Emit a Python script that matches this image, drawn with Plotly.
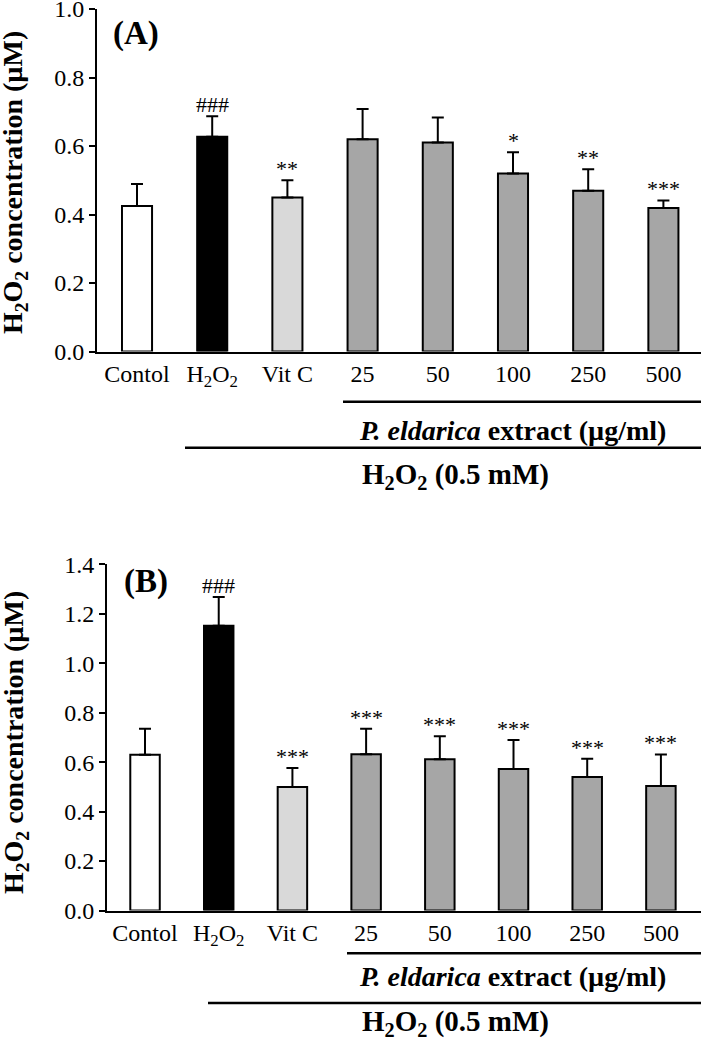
import plotly.graph_objects as go

W, H = 701, 1047

groups = ["Contol", "H<sub>2</sub>O<sub>2</sub>", "Vit C", "25", "50", "100", "250", "500"]
bar_colors = ["white", "black", "#d9d9d9", "#a6a6a6", "#a6a6a6", "#a6a6a6", "#a6a6a6", "#a6a6a6"]

# panel A
a_mean = [0.425, 0.627, 0.450, 0.620, 0.610, 0.520, 0.469, 0.419]
a_err = [0.064, 0.060, 0.050, 0.088, 0.073, 0.062, 0.063, 0.022]
a_sig = ["", "###", "**", "", "", "*", "**", "***"]

# panel B
b_mean = [0.630, 1.151, 0.499, 0.632, 0.612, 0.572, 0.540, 0.503]
b_err = [0.105, 0.117, 0.077, 0.103, 0.093, 0.117, 0.074, 0.128]
b_sig = ["", "###", "***", "***", "***", "***", "***", "***"]

FONT = "Liberation Serif, Times New Roman, serif"


def px(x):
    return x / W


def py(y):
    return 1 - y / H


xs = list(range(len(groups)))

fig = go.Figure()
for mean, err, xa, ya in [(a_mean, a_err, "x", "y"), (b_mean, b_err, "x2", "y2")]:
    fig.add_trace(go.Bar(
        x=xs, y=mean, width=0.4, xaxis=xa, yaxis=ya,
        marker=dict(color=bar_colors, line=dict(color="black", width=2)),
        error_y=dict(type="data", symmetric=False, array=err, arrayminus=[0] * len(err),
                     color="black", thickness=2, width=6),
    ))

axis_common = dict(showline=True, linecolor="black", linewidth=2, showgrid=False,
                   zeroline=False, automargin=False, ticklabeloverflow="allow",
                   tickfont=dict(family=FONT, size=24, color="black"))

fig.update_layout(
    width=W, height=H, margin=dict(l=0, r=0, t=0, b=0, autoexpand=False),
    paper_bgcolor="white", plot_bgcolor="white", showlegend=False,
    font=dict(family=FONT, color="black"),
    xaxis=dict(domain=[px(97), 1], range=[-0.532, 7.5], tickvals=xs, ticktext=groups,
               ticks="", anchor="y", **axis_common),
    yaxis=dict(domain=[py(351.5), py(9)], range=[0, 1.0], dtick=0.2, tickformat=".1f",
               ticks="outside", ticklen=6, tickwidth=2, tickcolor="black", anchor="x", **axis_common),
    xaxis2=dict(domain=[px(107), 1], range=[-0.516, 7.544], tickvals=xs, ticktext=groups,
                ticks="", anchor="y2", **axis_common),
    yaxis2=dict(domain=[py(910.5), py(564.3)], range=[0, 1.4], dtick=0.2, tickformat=".1f",
                ticks="outside", ticklen=6, tickwidth=2, tickcolor="black", anchor="x2", **axis_common),
)

# significance marks
for sig, mean, err, xa, ya in [(a_sig, a_mean, a_err, "x", "y"), (b_sig, b_mean, b_err, "x2", "y2")]:
    for i, s in enumerate(sig):
        if not s:
            continue
        fig.add_annotation(x=i, y=mean[i] + err[i], xref=xa, yref=ya, text=s, showarrow=False,
                           yanchor="bottom", yshift=-3, font=dict(family=FONT, size=22))

# panel letters
fig.add_annotation(x=px(111), y=py(34), xref="paper", yref="paper", text="<b>(A)</b>",
                   showarrow=False, xanchor="left", yanchor="middle", font=dict(size=33))
fig.add_annotation(x=px(122), y=py(581), xref="paper", yref="paper", text="<b>(B)</b>",
                   showarrow=False, xanchor="left", yanchor="middle", font=dict(size=33))

# y titles
for yc in [183, 743]:
    fig.add_annotation(x=px(15), y=py(yc), xref="paper", yref="paper", textangle=-90,
                       text="<b>H<sub>2</sub>O<sub>2</sub> concentration (µM)</b>",
                       showarrow=False, xanchor="center", yanchor="middle", font=dict(size=28))

# group brackets below the x axis
brackets = [
    # line1 y, line1 start, text1 y, line2 y, line2 start, text2 y
    (401.7, 343, 430, 447.7, 185, 476),
    (953.3, 347, 976.7, 1003, 208, 1023),
]
for l1, s1, t1, l2, s2, t2 in brackets:
    fig.add_shape(type="line", xref="paper", yref="paper", x0=px(s1), x1=1, y0=py(l1), y1=py(l1),
                  line=dict(color="black", width=2.5))
    fig.add_shape(type="line", xref="paper", yref="paper", x0=px(s2), x1=1, y0=py(l2), y1=py(l2),
                  line=dict(color="black", width=2.5))
    fig.add_annotation(x=px(512), y=py(t1), xref="paper", yref="paper", showarrow=False,
                       xanchor="center", yanchor="middle",
                       text="<b><i>P. eldarica</i> extract (µg/ml)</b>", font=dict(size=28))
    fig.add_annotation(x=px(455), y=py(t2), xref="paper", yref="paper", showarrow=False,
                       xanchor="center", yanchor="middle",
                       text="<b>H<sub>2</sub>O<sub>2</sub> (0.5 mM)</b>", font=dict(size=29))

# drop the default page margin so the figure sits at the window's corner
fig.write_html("out.html", config={"displayModeBar": False},
               post_script="document.body.style.margin = '0';")
